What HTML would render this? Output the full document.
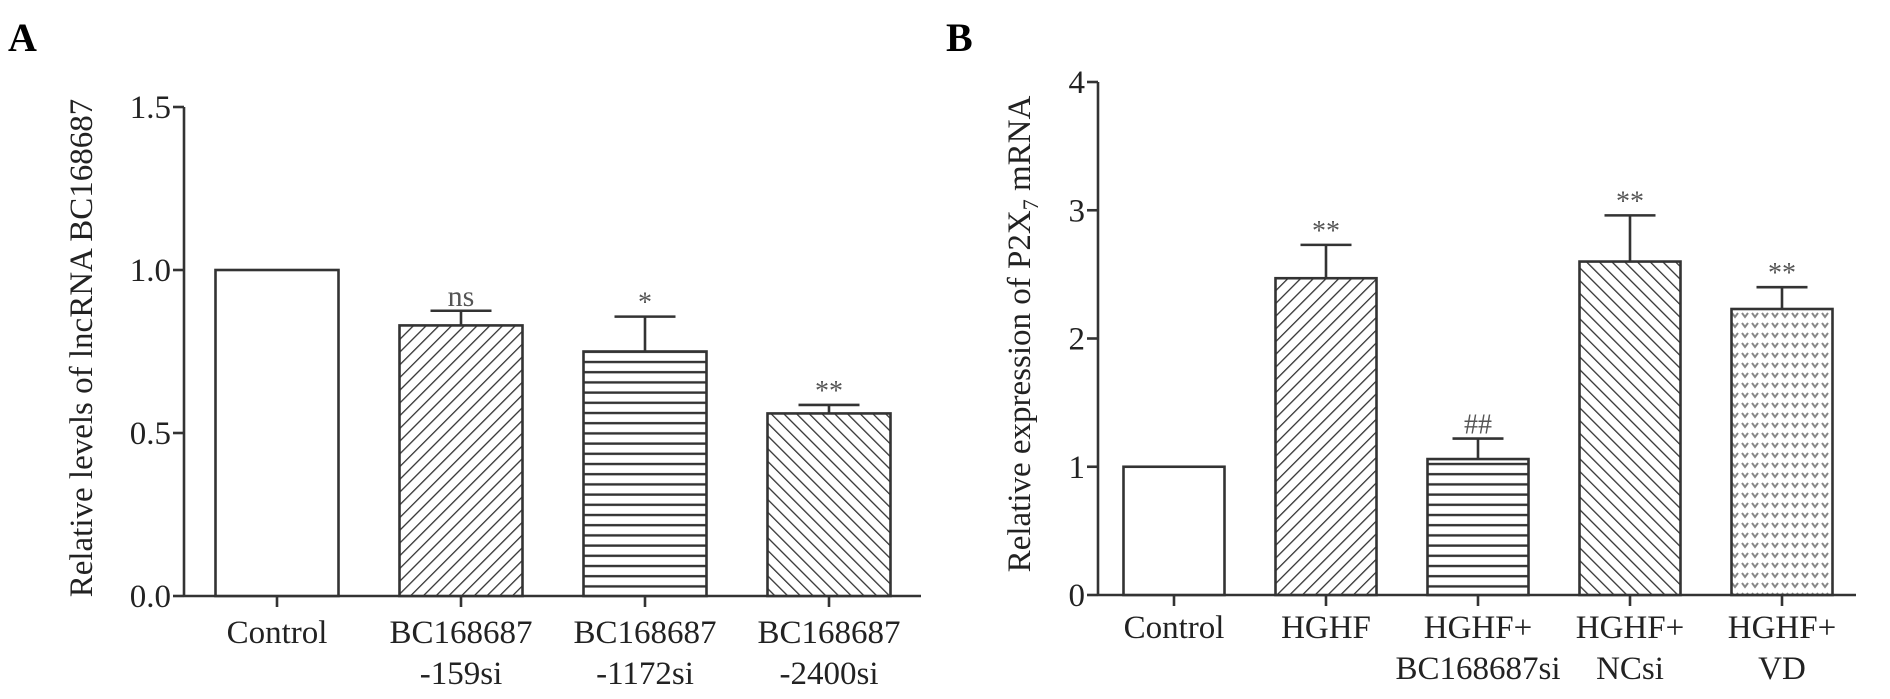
<!DOCTYPE html>
<html><head><meta charset="utf-8"><style>
html,body{margin:0;padding:0;background:#fff;}
svg{display:block;font-family:"Liberation Serif",serif;}
</style></head><body>
<svg id="fig" width="1890" height="699" viewBox="0 0 1890 699">
<defs>
<pattern id="pDiag" width="9" height="9" patternUnits="userSpaceOnUse" patternTransform="rotate(45)"><rect width="9" height="9" fill="#fff"/><line x1="0" y1="0" x2="0" y2="9" stroke="#333" stroke-width="2.6"/></pattern>
<pattern id="pBack" width="9" height="9" patternUnits="userSpaceOnUse" patternTransform="rotate(-45)"><rect width="9" height="9" fill="#fff"/><line x1="0" y1="0" x2="0" y2="9" stroke="#333" stroke-width="2.6"/></pattern>
<pattern id="pHoriz" width="10" height="10.2" patternUnits="userSpaceOnUse"><rect width="10" height="10.2" fill="#fff"/><line x1="0" y1="5" x2="10" y2="5" stroke="#333" stroke-width="2.4"/></pattern>
<pattern id="pDots" width="10" height="10" patternUnits="userSpaceOnUse"><rect width="10" height="10" fill="#fff"/><path d="M2,3 L5,7 L8,3" fill="none" stroke="#888" stroke-width="2"/></pattern>
</defs>
<text x="8" y="51" font-size="40" font-weight="bold">A</text>
<text x="946" y="51" font-size="40" font-weight="bold">B</text>
<text transform="translate(92,348) rotate(-90)" text-anchor="middle" font-size="33" fill="#222">Relative levels of lncRNA BC168687</text>
<text transform="translate(1030,334) rotate(-90)" text-anchor="middle" font-size="33" fill="#222">Relative expression of P2X<tspan font-size="22" dy="8">7</tspan><tspan dy="-8"> mRNA</tspan></text>
<g id="chartA"></g>
<g id="chartB"></g>
</svg>
<script>
const aCategories = [["Control"],["BC168687","-159si"],["BC168687","-1172si"],["BC168687","-2400si"]];
const aValues = [1.0, 0.83, 0.75, 0.56];
const aErrors = [0, 0.045, 0.107, 0.026];
const aMarks = ["", "ns", "*", "**"];
const aTicks = [0, 0.5, 1.0, 1.5];
const aTickLabels = ["0.0","0.5","1.0","1.5"];
const aFills = ["#fff","url(#pDiag)","url(#pHoriz)","url(#pBack)"];

const bCategories = [["Control"],["HGHF"],["HGHF+","BC168687si"],["HGHF+","NCsi"],["HGHF+","VD"]];
const bValues = [1.0, 2.47, 1.06, 2.60, 2.23];
const bErrors = [0, 0.26, 0.16, 0.36, 0.17];
const bMarks = ["", "**", "##", "**", "**"];
const bTicks = [0, 1, 2, 3, 4];
const bTickLabels = ["0","1","2","3","4"];
const bFills = ["#fff","url(#pDiag)","url(#pHoriz)","url(#pBack)","url(#pDots)"];

const NS="http://www.w3.org/2000/svg";
function mk(parent, tag, attrs){const e=document.createElementNS(NS,tag);for(const k in attrs)e.setAttribute(k,attrs[k]);parent.appendChild(e);return e;}

function drawChart(g, cfg){
  const y = v => cfg.y0 - (v - 0)/(cfg.ymax) * (cfg.y0 - cfg.ytop);
  const x = i => cfg.x0 + cfg.first + i*cfg.step;
  const col="#333";
  const ya = mk(g,"line",{x1:cfg.axisX,y1:y(cfg.ymax),x2:cfg.axisX,y2:cfg.y0,stroke:col,"stroke-width":2.6});
  
  
  const xa = mk(g,"line",{x1:cfg.axisX,y1:cfg.y0,x2:cfg.xEnd,y2:cfg.y0,stroke:col,"stroke-width":2.6});
  
  
  cfg.ticks.forEach((t,i)=>{
    const tl = mk(g,"line",{x1:cfg.axisX-11,y1:y(t),x2:cfg.axisX,y2:y(t),stroke:col,"stroke-width":2.6});
    
    
    const tx = mk(g,"text",{x:cfg.axisX-13,y:y(t)+11,"text-anchor":"end","font-size":33,fill:"#222"});
    tx.textContent = cfg.tickLabels[i];
    
    
  });
  cfg.cats.forEach((c,i)=>{
    const cx = x(i), v = cfg.vals[i];
    const r = mk(g,"rect",{x:cx-cfg.bw/2,y:y(v),width:cfg.bw,height:cfg.y0-y(v),fill:cfg.fills[i],stroke:col,"stroke-width":2.6});
    
    
    if(cfg.errs[i]>0){
      const ey = y(v+cfg.errs[i]);
      const el = mk(g,"path",{d:`M${cx},${y(v)}V${ey}M${cx-cfg.cap/2},${ey}H${cx+cfg.cap/2}`,stroke:col,"stroke-width":2.6,fill:"none"});
      
      
      const m = mk(g,"text",{x:cx,y:ey-5,"text-anchor":"middle","font-size":cfg.marks[i]=="ns"?30:28,fill:"#555"});
      m.textContent = cfg.marks[i];
      
      
    }
    const xt = mk(g,"line",{x1:cx,y1:cfg.y0,x2:cx,y2:cfg.y0+11,stroke:col,"stroke-width":2.6});
    
    
    c.forEach((line,j)=>{
      const t = mk(g,"text",{x:cx,y:cfg.lab1+j*41,"text-anchor":"middle","font-size":33,fill:"#222"});
      t.textContent = line;
      
      
    });
  });
}
drawChart(document.getElementById("chartA"),{axisX:184,x0:184,first:93,step:184,bw:123,cap:61,y0:596,ytop:107,ymax:1.5,xEnd:921,lab1:643,
  cats:aCategories,vals:aValues,errs:aErrors,marks:aMarks,ticks:aTicks,tickLabels:aTickLabels,fills:aFills});
drawChart(document.getElementById("chartB"),{axisX:1098,x0:1098,first:76,step:152,bw:101,cap:51,y0:595,ytop:82,ymax:4,xEnd:1856,lab1:638,
  cats:bCategories,vals:bValues,errs:bErrors,marks:bMarks,ticks:bTicks,tickLabels:bTickLabels,fills:bFills});
</script>
</body></html>
